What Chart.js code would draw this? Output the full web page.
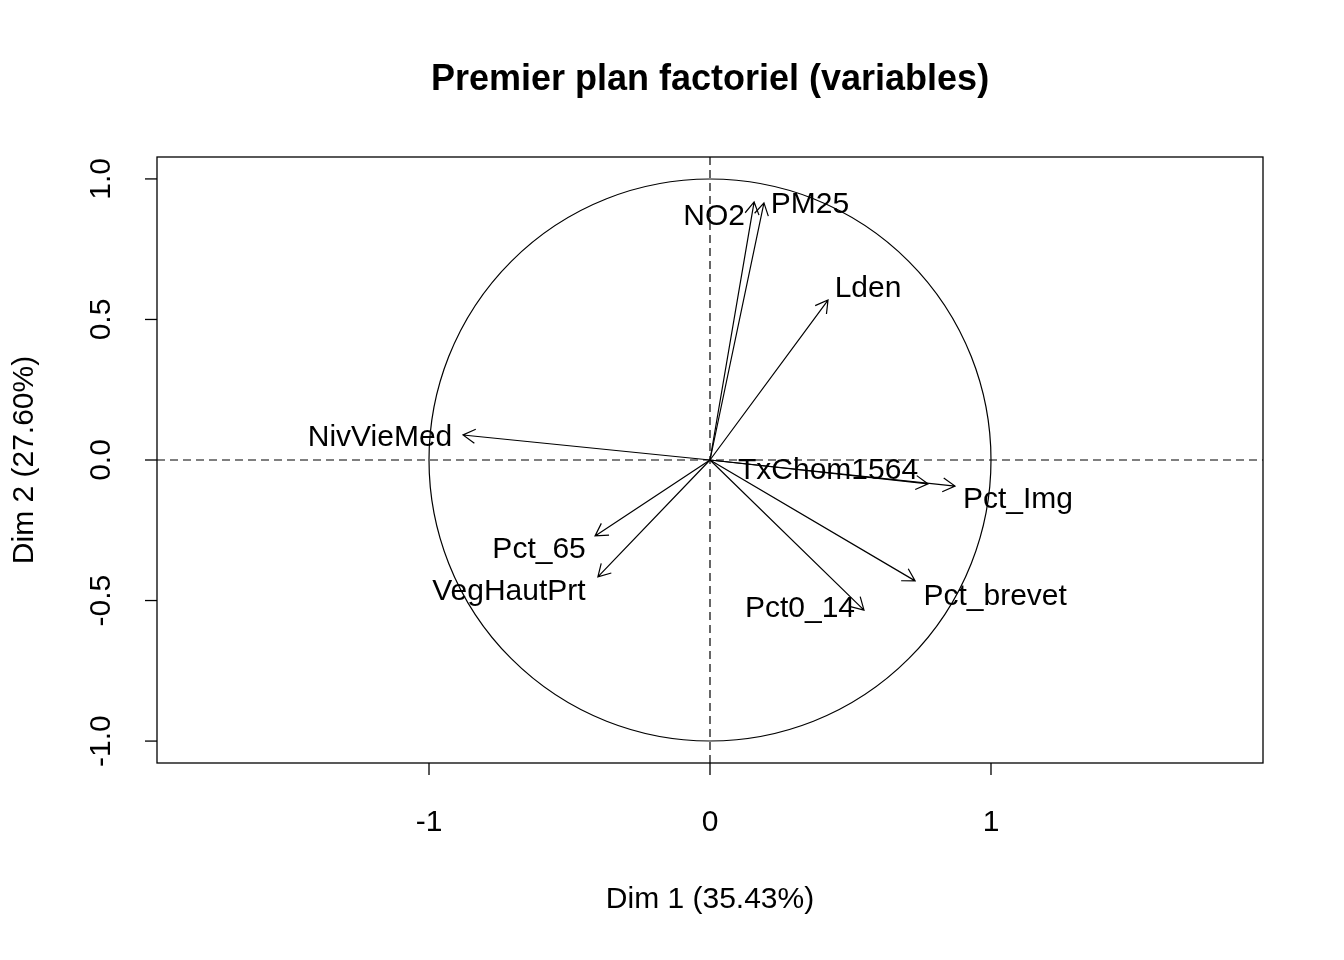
<!DOCTYPE html>
<html><head><meta charset="utf-8">
<script src="https://cdn.jsdelivr.net/npm/chart.js@4"></script>
<style>body{margin:0;background:#fff}#w{width:1344px;height:960px}</style>
</head><body><div id="w"><canvas id="c"></canvas></div>
<script>
const variables = ["NO2","PM25","Lden","NivVieMed","TxChom1564","Pct_Img","Pct_brevet","Pct0_14","Pct_65","VegHautPrt"];
const dim1 = [0.157,0.192,0.420,-0.879,0.776,0.872,0.730,0.548,-0.409,-0.399];
const dim2 = [0.918,0.915,0.569,0.089,-0.085,-0.093,-0.430,-0.534,-0.270,-0.416];
const xTicks = [-1,0,1];
const yTicks = [-1.0,-0.5,0.0,0.5,1.0];
const xTitle = "Dim 1 (35.43%)", yTitle = "Dim 2 (27.60%)";
const title = "Premier plan factoriel (variables)";
// label pixel offsets from arrow tip (style)
const labOff = {NO2:[-40,15],PM25:[46,2],Lden:[40,-11],NivVieMed:[-83,3],TxChom1564:[-100,-13],Pct_Img:[63,14],Pct_brevet:[80,16],Pct0_14:[-64,-1],Pct_65:[-56,14],VegHautPrt:[-89,15]};

const draw = {id:'d', afterDraw(ch){
  const c=ch.ctx, x=ch.scales.x, y=ch.scales.y, a=ch.chartArea;
  const X=v=>x.getPixelForValue(v), Y=v=>y.getPixelForValue(v);
  c.save(); c.strokeStyle='#000'; c.fillStyle='#000'; c.lineWidth=1.3;
  c.strokeRect(a.left,a.top,a.right-a.left,a.bottom-a.top);
  c.font='30px "Liberation Sans", Arial'; c.textAlign='center'; c.textBaseline='middle';
  xTicks.forEach(t=>{c.beginPath();c.moveTo(X(t),a.bottom);c.lineTo(X(t),a.bottom+12);c.stroke();c.fillText(String(t),X(t),a.bottom+60);});
  yTicks.forEach(t=>{c.beginPath();c.moveTo(a.left,Y(t));c.lineTo(a.left-12,Y(t));c.stroke();
    c.save();c.translate(a.left-55,Y(t));c.rotate(-Math.PI/2);c.fillText(t.toFixed(1),0,0);c.restore();});
  c.fillText(xTitle,(a.left+a.right)/2,900);
  c.save();c.translate(25,(a.top+a.bottom)/2);c.rotate(-Math.PI/2);c.fillText(yTitle,0,0);c.restore();
  c.font='bold 36px "Liberation Sans", Arial'; c.fillText(title,(a.left+a.right)/2,80);
  c.lineWidth=1.2; c.beginPath(); c.arc(X(0),Y(0),X(1)-X(0),0,2*Math.PI); c.stroke();
  c.setLineDash([8,5]); c.beginPath(); c.moveTo(a.left,Y(0));c.lineTo(a.right,Y(0));
  c.moveTo(X(0),a.top);c.lineTo(X(0),a.bottom);c.stroke(); c.setLineDash([]);
  c.font='30px "Liberation Sans", Arial';
  variables.forEach((n,i)=>{
    const x0=X(0),y0=Y(0),x1=X(dim1[i]),y1=Y(dim2[i]);
    const ang=Math.atan2(y1-y0,x1-x0), L=14;
    c.beginPath();c.moveTo(x0,y0);c.lineTo(x1,y1);
    c.moveTo(x1-L*Math.cos(ang-Math.PI/6),y1-L*Math.sin(ang-Math.PI/6));c.lineTo(x1,y1);
    c.lineTo(x1-L*Math.cos(ang+Math.PI/6),y1-L*Math.sin(ang+Math.PI/6));c.stroke();
    const o=labOff[n]; c.fillText(n,x1+o[0],y1+o[1]);
  });
  c.restore();
}};
new Chart(document.getElementById('c'),{type:'scatter',
  data:{datasets:[{data:dim1.map((v,i)=>({x:v,y:dim2[i]})),pointRadius:0}]},
  options:{responsive:true,maintainAspectRatio:false,animation:false,
    layout:{padding:{left:157,right:81,top:157,bottom:197}},
    plugins:{legend:{display:false},tooltip:{enabled:false}},
    scales:{x:{type:'linear',min:-1.968,max:1.968,display:false},y:{type:'linear',min:-1.078,max:1.078,display:false}}},
  plugins:[draw]});
</script></body></html>
